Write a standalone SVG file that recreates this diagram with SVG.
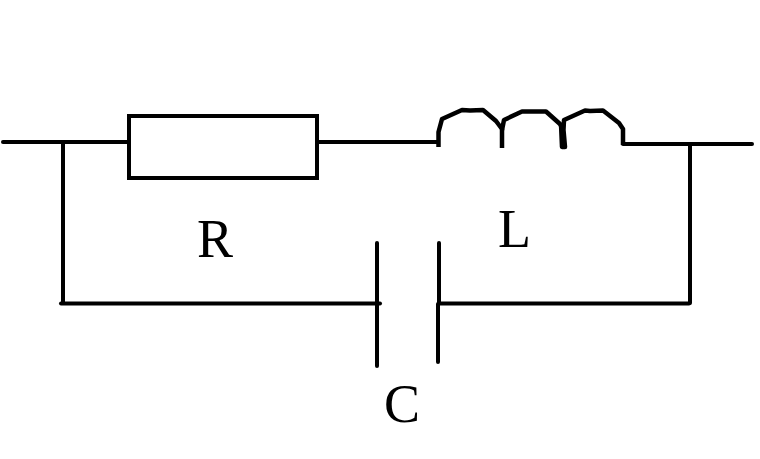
<svg xmlns="http://www.w3.org/2000/svg" width="760" height="459" viewBox="0 0 760 459">
<style>
.w{fill:none;stroke:#000;stroke-width:4;stroke-linecap:round;stroke-linejoin:round}
.c{fill:none;stroke:#000;stroke-width:4.500;stroke-linecap:butt;stroke-linejoin:round}
.b{fill:none;stroke:#000;stroke-width:4;stroke-linecap:butt;stroke-linejoin:miter}
text{font-family:"Liberation Serif",serif;font-size:54px;fill:#000}
</style>
<rect width="760" height="459" fill="#fff"/>
<g id="connectors">
<path class="w" d="M3 142H128"/>
<path class="w" d="M63 142V303"/>
<path class="w" d="M61 303.500H380"/>
<path class="w" d="M318 142H438"/>
<path class="w" d="M623 144H752"/>
<path class="w" d="M690 144V303"/>
<path class="w" d="M439 303.500H689"/>
</g>
<g id="resistor"><rect class="b" x="129" y="116" width="188" height="62"/></g>
<g id="inductor">
<path class="c" d="M438.500 147V132L442 119L462 110L470 110.500L483 110L496 121L502 129V148"/>
<path class="c" d="M502 130L504 120L522 111.500H546L560 124L563 129"/>
<path class="c" d="M561 124L562 147H565L563.500 130L564 120L585 110.500L590 111L603 110.500L619 123L623 129V145"/>
</g>
<g id="capacitor">
<path class="w" d="M377 243V366"/>
<path class="w" d="M439 243V303"/>
<path class="w" d="M438 304V362"/>
</g>
<g id="label-r"><text x="197" y="257">R</text></g>
<g id="label-l"><text x="498" y="247">L</text></g>
<g id="label-c"><text x="384" y="422">C</text></g>
</svg>
